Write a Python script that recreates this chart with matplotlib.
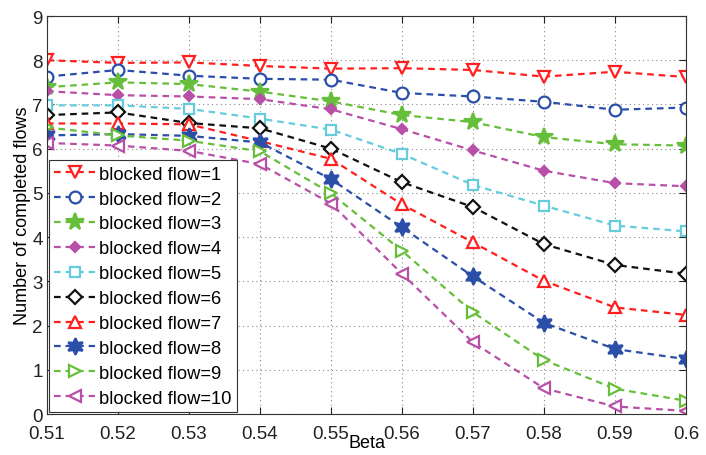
import matplotlib
matplotlib.use("Agg")
import matplotlib.pyplot as plt

plt.rcParams.update({
    "font.family": ["Liberation Sans", "DejaVu Sans"],
    "font.size": 13,
})

beta = [0.51, 0.52, 0.53, 0.54, 0.55, 0.56, 0.57, 0.58, 0.59, 0.60]

flow1 = [8.00, 7.94, 7.95, 7.87, 7.81, 7.82, 7.78, 7.63, 7.74, 7.62]
flow2 = [7.63, 7.78, 7.65, 7.58, 7.56, 7.26, 7.18, 7.06, 6.88, 6.93]
flow3 = [7.39, 7.50, 7.46, 7.29, 7.07, 6.76, 6.60, 6.26, 6.10, 6.07]
flow4 = [7.30, 7.21, 7.18, 7.12, 6.89, 6.44, 5.96, 5.50, 5.22, 5.15]
flow5 = [6.98, 6.98, 6.90, 6.68, 6.43, 5.88, 5.18, 4.71, 4.26, 4.13]
flow6 = [6.76, 6.82, 6.58, 6.46, 6.00, 5.24, 4.68, 3.84, 3.37, 3.17]
flow7 = [6.57, 6.57, 6.55, 6.17, 5.77, 4.74, 3.88, 3.01, 2.41, 2.24]
flow8 = [6.30, 6.33, 6.29, 6.14, 5.31, 4.22, 3.11, 2.06, 1.47, 1.24]
flow9 = [6.48, 6.30, 6.18, 5.94, 4.99, 3.69, 2.30, 1.22, 0.57, 0.30]
flow10 = [6.13, 6.07, 5.95, 5.65, 4.76, 3.17, 1.62, 0.58, 0.17, 0.07]

series = [flow1, flow2, flow3, flow4, flow5, flow6, flow7, flow8, flow9, flow10]
labels = ["blocked flow=%d" % (i + 1) for i in range(10)]

red = "#ff1f1f"
blue = "#2b4ea8"
green = "#66bf3a"
magenta = "#b850a8"
cyan = "#66ccdd"
black = "#111111"

# colour, marker, size, filled
styles = [
    (red, "v", 8.5, False),
    (blue, "o", 8.5, False),
    (green, "*", 13, True),
    (magenta, "D", 5, True),
    (cyan, "s", 7, False),
    (black, "D", 7, False),
    (red, "^", 8.5, False),
    (blue, (6, 1, 0), 12, True),
    (green, ">", 8.5, False),
    (magenta, "<", 8.5, False),
]

fig = plt.figure(figsize=(7.06, 4.56), dpi=100)
ax = fig.add_axes([0.0666, 0.0899, 0.9051, 0.8728])

for vals, lab, (col, mk, ms, filled) in zip(series, labels, styles):
    ax.plot(beta, vals, linestyle=(0, (3, 2.2)), linewidth=1.6, color=col,
            marker=mk, markersize=ms, markeredgewidth=1.6,
            markerfacecolor=col if filled else "white", markeredgecolor=col,
            label=lab)

ax.set_xlim(0.51, 0.60)
ax.set_ylim(0, 9)
ax.set_xticks(beta)
ax.set_xticklabels(["0.51", "0.52", "0.53", "0.54", "0.55", "0.56",
                    "0.57", "0.58", "0.59", "0.6"])
ax.set_yticks(range(10))

ax.grid(True, linestyle=(0, (1, 3)), color="#888888", linewidth=0.8)
ax.tick_params(direction="in", top=True, right=True, length=5,
               labelsize=13.5, colors="#222222", pad=3)
ax.tick_params(axis="x", pad=8)
for sp in ax.spines.values():
    sp.set_color("#333333")
    sp.set_linewidth(0.8)

ax.set_xlabel("Beta", fontsize=13, labelpad=-6)
ax.set_ylabel("Number of completed flows", fontsize=13, labelpad=1)

leg = ax.legend(loc="lower left", fontsize=13.2, frameon=True, fancybox=False,
                edgecolor="#333333", framealpha=1, borderpad=0.3,
                labelspacing=0.43, handlelength=2.2, handletextpad=0.25,
                borderaxespad=0.1)
leg.get_frame().set_linewidth(0.8)

fig.savefig("out.png", dpi=100)
